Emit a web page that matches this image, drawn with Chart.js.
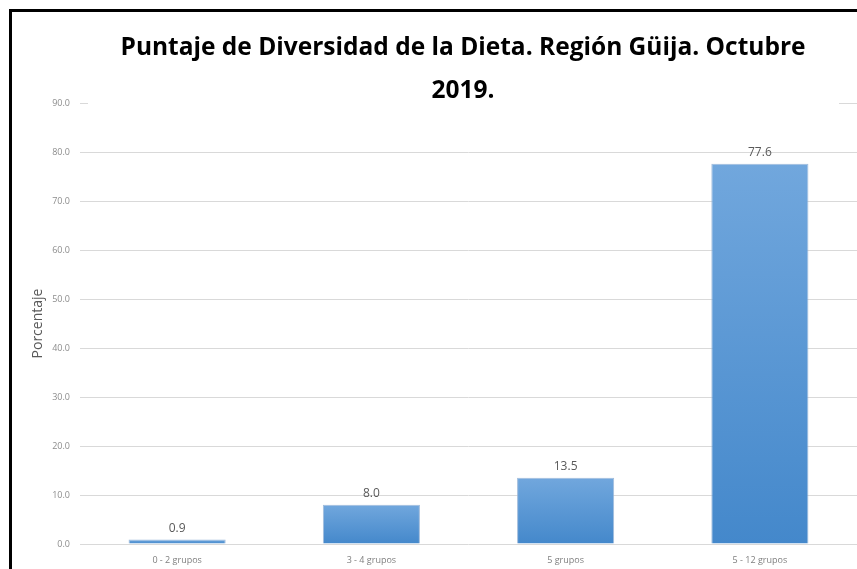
<!DOCTYPE html>
<html>
<head>
<meta charset="utf-8">
<script src="https://cdn.jsdelivr.net/npm/chart.js@4"></script>
<style>
  html, body { margin: 0; padding: 0; background: #fff; overflow: hidden; }
  #wrap { position: relative; width: 857px; height: 569px; }
  #frame {
    position: absolute; left: 9px; top: 9px; width: 900px; height: 600px;
    border: 3px solid #000; pointer-events: none;
  }
</style>
</head>
<body>
<div id="wrap">
  <canvas id="myChart" width="857" height="569"></canvas>
  <div id="frame"></div>
</div>
<script>
const categories = ["0 - 2 grupos", "3 - 4 grupos", "5 grupos", "5 - 12 grupos"];
const porcentaje = [0.9, 8.0, 13.5, 77.6];
const titleLines = ["Puntaje de Diversidad de la Dieta. Región Güija. Octubre", "2019."];
const yTitle = "Porcentaje";

// bar fill: light blue on top, darker at the base, per bar
function barFill(ctx) {
  const chart = ctx.chart;
  if (!chart.chartArea || ctx.parsed === undefined) return "#5b9bd5";
  const y = chart.scales.y;
  const top = y.getPixelForValue(ctx.parsed.y);
  const bottom = y.getPixelForValue(0);
  if (!isFinite(top) || !isFinite(bottom) || top === bottom) return "#5b9bd5";
  const g = chart.ctx.createLinearGradient(0, top, 0, bottom);
  g.addColorStop(0, "#71a7dd");
  g.addColorStop(1, "#4488cb");
  return g;
}

// values written above each bar
const valueLabels = {
  id: "valueLabels",
  afterDatasetsDraw(chart) {
    const ctx = chart.ctx;
    const meta = chart.getDatasetMeta(0);
    ctx.save();
    ctx.font = "12px 'Open Sans', sans-serif";
    ctx.fillStyle = "#595959";
    ctx.textAlign = "center";
    ctx.textBaseline = "alphabetic";
    meta.data.forEach((bar, i) => {
      ctx.fillText(porcentaje[i].toFixed(1), bar.x, bar.y - 8);
    });
    ctx.restore();
  }
};

// title box laid over the plot, like the office chart
const overlayTitle = {
  id: "overlayTitle",
  afterDraw(chart) {
    const ctx = chart.ctx;
    ctx.save();
    ctx.fillStyle = "#fff";
    ctx.fillRect(88, 25, 751, 84);
    ctx.font = "bold 24.5px 'Open Sans', sans-serif";
    ctx.fillStyle = "#000";
    ctx.textAlign = "center";
    ctx.textBaseline = "alphabetic";
    ctx.fillText(titleLines[0], 463, 55);
    ctx.fillText(titleLines[1], 463, 98);
    ctx.restore();
  }
};

const data = {
  labels: categories,
  datasets: [
    {
      label: "Porcentaje",
      data: porcentaje,
      backgroundColor: barFill,
      borderColor: "rgba(150,180,215,0.9)",
      borderWidth: 1,
      barPercentage: 0.5,
      categoryPercentage: 1.0,
    },
  ],
};

const config = {
  type: "bar",
  data,
  options: {
    responsive: false,
    animation: false,
    layout: { padding: { top: 103, left: 0, right: 0, bottom: 0 } },
    scales: {
      x: {
        grid: { display: false },
        border: { display: false },
        ticks: {
          color: "#7f7f7f",
          font: { size: 9, family: "'Open Sans', sans-serif" },
          padding: 3,
        },
        afterFit(scale) { scale.height = 25; },
      },
      y: {
        min: 0,
        max: 90,
        ticks: {
          stepSize: 10,
          color: "#8c8c8c",
          font: { size: 9, family: "'Open Sans', sans-serif" },
          padding: 10,
          callback: (v) => Number(v).toFixed(1),
        },
        grid: { color: "#d9d9d9", drawTicks: false },
        border: { display: false },
        title: {
          display: true,
          text: yTitle,
          color: "#595959",
          font: { size: 14, family: "'Open Sans', sans-serif" },
          padding: { top: 30, bottom: 0 },
        },
        afterFit(scale) { scale.width = 80; },
      },
    },
    plugins: {
      legend: { display: false },
      tooltip: { enabled: false },
      title: { display: false },
    },
  },
  plugins: [valueLabels, overlayTitle],
};

new Chart(document.getElementById("myChart").getContext("2d"), config);
</script>
</body>
</html>
